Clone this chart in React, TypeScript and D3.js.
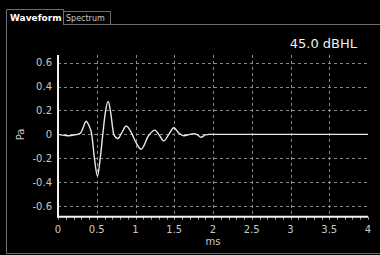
import React from "react";
import * as d3 from "d3";

const times = [0, 0.1, 0.15, 0.2, 0.25, 0.29, 0.32, 0.363, 0.395, 0.435, 0.47, 0.509, 0.545, 0.578, 0.61, 0.648, 0.68, 0.72, 0.773, 0.82, 0.88, 0.95, 1.0, 1.071, 1.17, 1.248, 1.31, 1.365, 1.43, 1.494, 1.56, 1.623, 1.7, 1.753, 1.8, 1.845, 1.9, 1.95, 2.0, 4.0];
const pressures = [0, -0.01, -0.012, -0.005, 0, 0.01, 0.05, 0.11, 0.08, 0, -0.2, -0.35, -0.2, 0, 0.18, 0.276, 0.18, 0, -0.035, 0.01, 0.07, 0.01, -0.06, -0.125, -0.01, 0.035, -0.01, -0.055, 0.0, 0.055, 0.01, -0.012, 0.0, 0.005, -0.005, -0.025, -0.005, 0, 0, 0];
const yTicks = [0.6, 0.4, 0.2, 0, -0.2, -0.4, -0.6];
const xTicks = [0, 0.5, 1, 1.5, 2, 2.5, 3, 3.5, 4];
const xMinorTicks = d3.range(0, 41).map((i) => i / 10);
const levelLabel = "45.0 dBHL";
const tabs = ["Waveform", "Spectrum"];

export default function App() {
  const W = 380, H = 255;
  const x = d3.scaleLinear().domain([0, 4]).range([58, 368]);
  const y = d3.scaleLinear().domain([-0.6, 0.6]).range([206, 62.7]);
  const yTop = y(0.665);
  const yBottom = y(-0.69);
  const pts = times.map((t, i) => [t, pressures[i]] as [number, number]);
  const line = d3
    .line<[number, number]>()
    .x((d) => x(d[0]))
    .y((d) => y(d[1]))
    .curve(d3.curveMonotoneX);
  const font = "DejaVu Sans, Verdana, sans-serif";
  const grid = "#8a8a8a";
  const border = "#6e6e6e";
  return (
    <div style={{ position: "fixed", left: 0, top: 0 }}>
      <svg width={W} height={H} style={{ display: "block", background: "#000" }}>
        <rect x={0} y={0} width={W} height={H} fill="#000" />
        {/* panel border */}
        <path d={`M6.5,24.5 V253.5 H${W}`} fill="none" stroke={border} strokeWidth={1} />
        <path d={`M110.5,24.5 H${W}`} fill="none" stroke={border} strokeWidth={1} />
        {/* tabs */}
        <path d="M6.5,25 V9.5 H63.5 V25" fill="none" stroke={border} strokeWidth={1} />
        <path d="M63.5,24.5 V11.5 H110.5 V24.5 H63.5" fill="none" stroke={border} strokeWidth={1} />
        <text x={10} y={21} fill="#ffffff" fontFamily={font} fontSize={9} fontWeight="bold">
          {tabs[0]}
        </text>
        <text x={66} y={20.5} fill="#c8c8c8" fontFamily={font} fontSize={8}>
          {tabs[1]}
        </text>
        {/* level */}
        <text x={357} y={48} textAnchor="end" fill="#f0f0f0" fontFamily={font} fontSize={13}>
          {levelLabel}
        </text>
        {/* gridlines */}
        {yTicks.map((v) => (
          <line key={"gy" + v} x1={58} x2={368} y1={Math.round(y(v)) + 0.5} y2={Math.round(y(v)) + 0.5} stroke={grid} strokeDasharray="3,3" strokeWidth={1} />
        ))}
        {xTicks.slice(1, -1).map((v) => (
          <line key={"gx" + v} x1={Math.round(x(v)) + 0.5} x2={Math.round(x(v)) + 0.5} y1={yTop} y2={yBottom} stroke={grid} strokeDasharray="3,3" strokeWidth={1} />
        ))}
        {/* minor ticks */}
        {xMinorTicks.map((v) => (
          <line key={"mt" + v} x1={Math.round(x(v)) + 0.5} x2={Math.round(x(v)) + 0.5} y1={yBottom} y2={yBottom + 3} stroke="#a0a0a0" strokeWidth={1} />
        ))}
        {/* signal */}
        <path d={line(pts) || ""} fill="none" stroke="#e8e8e8" strokeWidth={1.4} />
        {/* axes */}
        <line x1={58} x2={58} y1={yTop} y2={yBottom} stroke="#f4f4f4" strokeWidth={2} />
        <line x1={57} x2={368} y1={yBottom} y2={yBottom} stroke="#f4f4f4" strokeWidth={2} />
        {/* tick labels */}
        {yTicks.map((v) => (
          <text key={"ly" + v} x={52} y={y(v) + 3.5} textAnchor="end" fill="#c8c8c8" fontFamily={font} fontSize={10}>
            {String(v)}
          </text>
        ))}
        {xTicks.map((v) => (
          <text key={"lx" + v} x={x(v)} y={233} textAnchor="middle" fill="#c8c8c8" fontFamily={font} fontSize={10}>
            {String(v)}
          </text>
        ))}
        <text x={x(2)} y={245} textAnchor="middle" fill="#c8c8c8" fontFamily={font} fontSize={10}>
          ms
        </text>
        <text transform={`translate(24,${y(0)}) rotate(-90)`} textAnchor="middle" fill="#c8c8c8" fontFamily={font} fontSize={10}>
          Pa
        </text>
      </svg>
    </div>
  );
}
